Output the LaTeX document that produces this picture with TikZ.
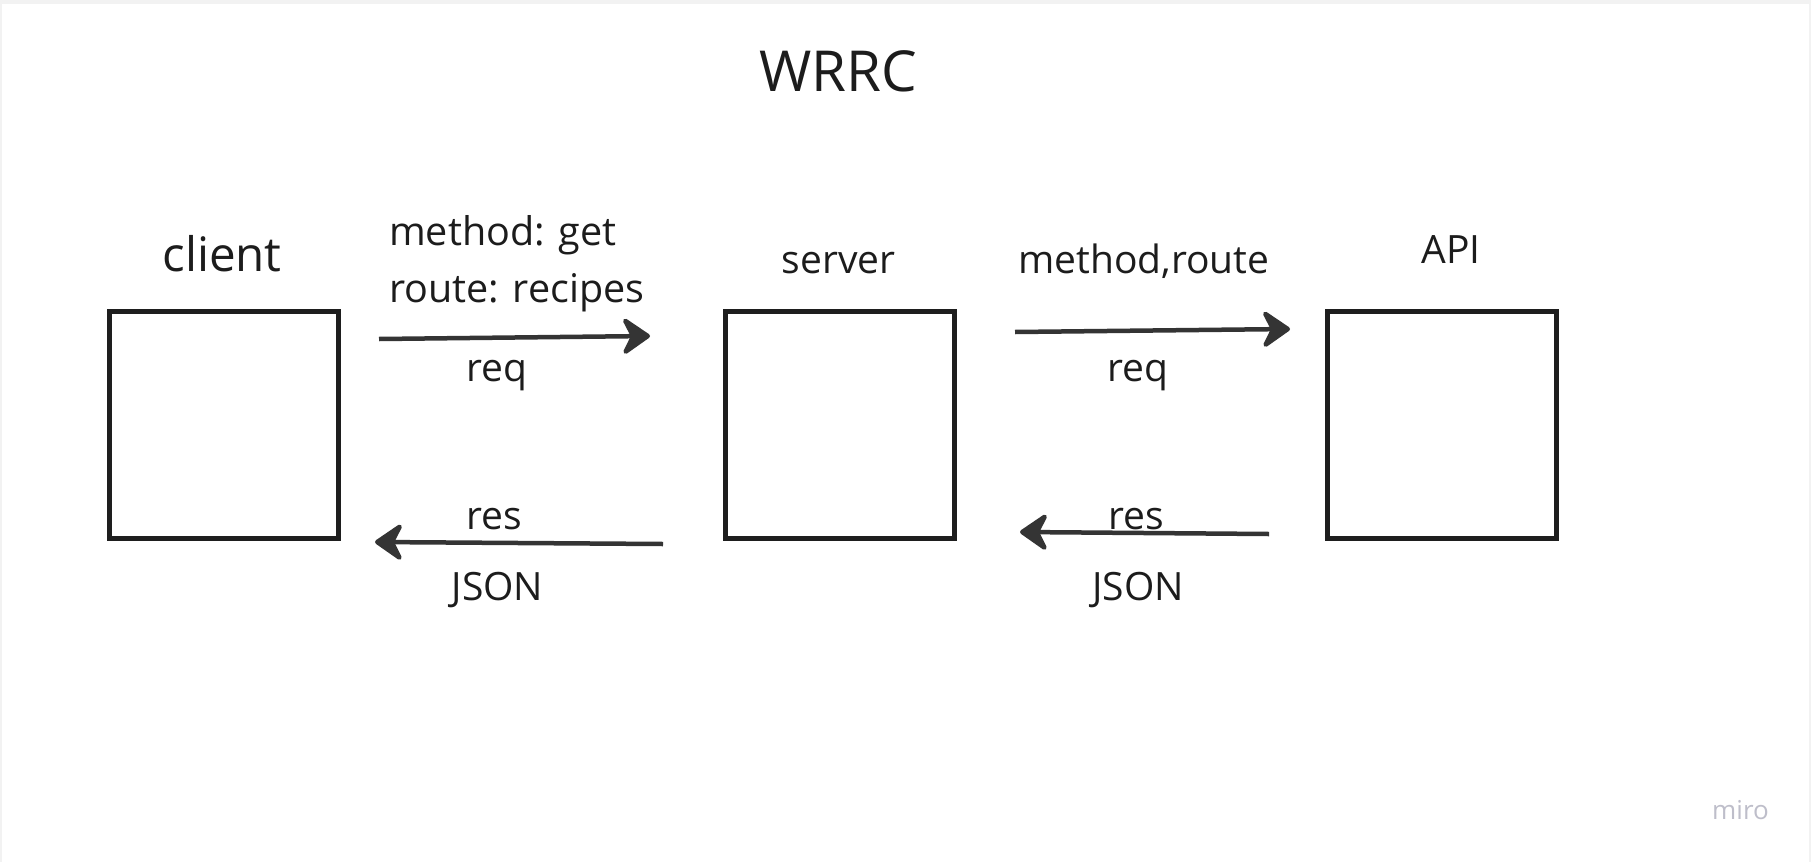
\documentclass[tikz,border=0pt]{standalone}
\usepackage{fontspec}
\setmainfont{Open Sans}
\usetikzlibrary{arrows.meta}
\definecolor{boxc}{RGB}{30,30,30}
\definecolor{arrc}{RGB}{52,52,52}
\definecolor{txtc}{RGB}{28,28,28}
\definecolor{framec}{RGB}{242,242,242}
\definecolor{miroc}{RGB}{190,190,202}
\begin{document}
\begin{tikzpicture}[x=1pt,y=-1pt,
  box/.style={draw=boxc, line width=4.3pt, minimum width=229pt, minimum height=227pt, inner sep=0pt},
  lbl/.style={inner sep=0pt, text=txtc, font=\fontsize{39}{46}\selectfont},
  conn/.style={draw=arrc, line width=4.5pt, -{Stealth[length=32pt,width=44pt,inset=11pt,round]}}]
\useasboundingbox (0,0) rectangle (1811,862);
\fill[framec] (0,0) rectangle (1811,862);
\fill[white] (2,4) rectangle (1809,862);
% title
\node[lbl, anchor=base, font=\fontsize{56.5}{62}\selectfont] (title) at (838,91) {WRRC};
% boxes
\node[box] (client) at (224,425) {};
\node[box] (server) at (840,425) {};
\node[box] (api) at (1442,425) {};
% box labels
\node[lbl, anchor=base, font=\fontsize{47.5}{54}\selectfont] (clientlbl) at (222,271) {client};
\node[lbl, anchor=base] (serverlbl) at (838.5,273) {server};
\node[lbl, anchor=base] (apilbl) at (1451,263) {API};
% arrow labels
\node[lbl, anchor=base west, font=\fontsize{39.5}{46}\selectfont] (m1) at (389,245) {method: get};
\node[lbl, anchor=base west, font=\fontsize{39.5}{46}\selectfont] (r1) at (389,302) {route: recipes};
\node[lbl, anchor=base west] (m2) at (1018,273) {method,route};
\node[lbl, anchor=base] (req1) at (497,381) {req};
\node[lbl, anchor=base] (req2) at (1138,381) {req};
\node[lbl, anchor=base] (res1) at (494,529) {res};
\node[lbl, anchor=base] (res2) at (1136,529) {res};
\node[lbl, anchor=base] (json1) at (497.5,600) {JSON};
\node[lbl, anchor=base] (json2) at (1138,600) {JSON};
% arrows
\coordinate (a1s) at (379,339);
\coordinate (a1e) at (650,336);
\coordinate (a2s) at (1015,332);
\coordinate (a2e) at (1290,329);
\coordinate (a3s) at (663,544);
\coordinate (a3e) at (375,542);
\coordinate (a4s) at (1269,534);
\coordinate (a4e) at (1020,532);
\draw[conn] (a1s) -- (a1e);
\draw[conn] (a2s) -- (a2e);
\draw[conn] (a3s) -- (a3e);
\draw[conn] (a4s) -- (a4e);
% logo
\node[inner sep=0pt, anchor=base, text=miroc, font=\fontsize{26}{30}\selectfont] (miro) at (1740.5,819) {miro};
\end{tikzpicture}
\end{document}
